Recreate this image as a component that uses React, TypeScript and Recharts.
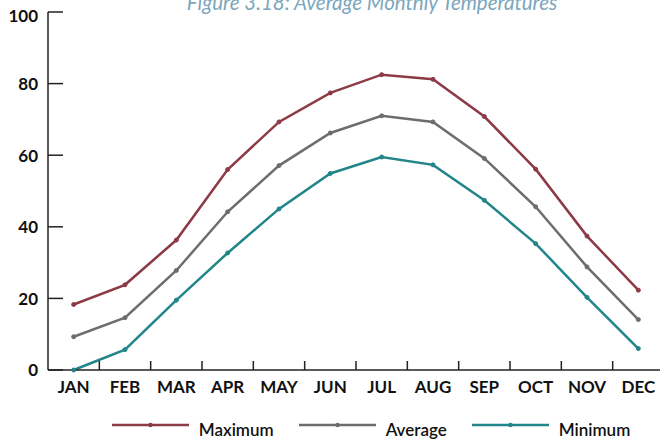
import React from 'react';
import { LineChart, Line, XAxis, YAxis, Legend } from 'recharts';

const months = ['JAN', 'FEB', 'MAR', 'APR', 'MAY', 'JUN', 'JUL', 'AUG', 'SEP', 'OCT', 'NOV', 'DEC'];
const maximum = [18.3, 23.8, 36.3, 56.0, 69.3, 77.4, 82.5, 81.2, 70.8, 56.1, 37.4, 22.3];
const average = [9.3, 14.6, 27.8, 44.2, 57.1, 66.2, 71.0, 69.3, 59.1, 45.6, 28.8, 14.1];
const minimum = [0, 5.7, 19.5, 32.7, 45.0, 54.9, 59.5, 57.3, 47.4, 35.3, 20.3, 6.0];
const yTicks = [0, 20, 40, 60, 80, 100];
const seriesOrder = ['Maximum', 'Average', 'Minimum'];
const title = 'Figure 3.18: Average Monthly Temperatures';

const COLORS = { max: '#8b3a46', avg: '#6c6d70', min: '#21858a' };
const FONT = 'Lato, "Open Sans", sans-serif';

const data = months.map((m, i) => ({
  month: m,
  x: i + 0.5,
  Maximum: maximum[i],
  Average: average[i],
  Minimum: minimum[i],
}));
const labelTicks = months.map((_, i) => i + 0.5);
const boundaryTicks = months.slice(1).map((_, i) => i + 1);

const YTick = (props: any) => {
  const { x, y, payload } = props;
  const dy = payload.value === 100 ? 6 : 2;
  return (
    <text x={x} y={y + dy} textAnchor="end" dominantBaseline="middle" fontFamily={FONT} fontWeight={700} fontSize={17} fill="#111">
      {payload.value}
    </text>
  );
};

const LegendContent = (props: any) => {
  const seen: Record<string, boolean> = {};
  const items = (props.payload || [])
    .filter((p: any) => p.type !== 'none' && seriesOrder.includes(p.value))
    .filter((p: any) => (seen[p.value] ? false : (seen[p.value] = true)))
    .sort((a: any, b: any) => seriesOrder.indexOf(a.value) - seriesOrder.indexOf(b.value));
  return (
    <div style={{ display: 'flex', justifyContent: 'center', height: 24, fontFamily: FONT }}>
      {items.map((p: any, i: number) => (
        <div key={i} style={{ display: 'flex', alignItems: 'flex-start', marginLeft: i === 0 ? 0 : 25 }}>
          <svg width={77} height={18} style={{ display: 'block' }}>
            <line x1={0} y1={9} x2={77} y2={9} stroke={p.color} strokeWidth={2.5} />
            <circle cx={38.5} cy={9} r={2.2} fill={p.color} />
          </svg>
          <span style={{ marginLeft: 10, fontSize: 17, lineHeight: '20px', paddingTop: 4, color: '#111', fontWeight: 600, whiteSpace: 'nowrap' }}>{p.value}</span>
        </div>
      ))}
    </div>
  );
};

export default function App() {
  return (
    <div style={{ position: 'fixed', left: 0, top: 0, width: 660, height: 440, overflow: 'hidden', background: '#fff' }}>
      <LineChart width={660} height={440} data={data} margin={{ top: 12, right: -4, bottom: 0, left: 8 }}>
        <XAxis
          xAxisId="t"
          dataKey="x"
          type="number"
          domain={[0, 12]}
          ticks={boundaryTicks}
          interval={0}
          mirror
          height={1}
          tickSize={9}
          tickFormatter={() => ''}
          axisLine={false}
          tickLine={{ stroke: '#222', strokeWidth: 1.5 }}
        />
        <XAxis
          dataKey="x"
          type="number"
          domain={[0, 12]}
          ticks={labelTicks}
          interval={0}
          height={46}
          tickLine={false}
          tickSize={8}
          tickMargin={3}
          tickFormatter={(v: number) => months[Math.round(v - 0.5)]}
          axisLine={{ stroke: '#222', strokeWidth: 1.5 }}
          tick={{ fontFamily: FONT, fontWeight: 700, fontSize: 17, fill: '#111' }}
        />
        <YAxis
          yAxisId="t"
          type="number"
          domain={[0, 100]}
          ticks={yTicks}
          interval={0}
          mirror
          width={1}
          tickSize={15}
          tickFormatter={() => ''}
          axisLine={false}
          tickLine={{ stroke: '#222', strokeWidth: 1.5 }}
        />
        <YAxis
          type="number"
          domain={[0, 100]}
          ticks={yTicks}
          interval={0}
          width={40}
          tickLine={false}
          tickSize={8}
          tickMargin={2}
          axisLine={{ stroke: '#222', strokeWidth: 1.5 }}
          tick={<YTick />}
        />
        <Legend verticalAlign="bottom" content={<LegendContent />} wrapperStyle={{ left: 91, width: 560 }} />
        <Line xAxisId="t" yAxisId="t" dataKey="Average" stroke="none" dot={false} activeDot={false} legendType="none" isAnimationActive={false} />
        <Line dataKey="Maximum" stroke={COLORS.max} strokeWidth={2.5} dot={{ r: 2, fill: COLORS.max, stroke: COLORS.max, strokeWidth: 1 }} activeDot={false} isAnimationActive={false} />
        <Line dataKey="Average" stroke={COLORS.avg} strokeWidth={2.5} dot={{ r: 2, fill: COLORS.avg, stroke: COLORS.avg, strokeWidth: 1 }} activeDot={false} isAnimationActive={false} />
        <Line dataKey="Minimum" stroke={COLORS.min} strokeWidth={2.5} dot={{ r: 2, fill: COLORS.min, stroke: COLORS.min, strokeWidth: 1 }} activeDot={false} isAnimationActive={false} />
      </LineChart>
      <svg width={660} height={30} style={{ position: 'absolute', left: 0, top: 0 }}>
        <text x={372} y={10} textAnchor="middle" fontFamily={FONT} fontStyle="italic" fontSize={20.5} fill="#7ba6bd">
          {title}
        </text>
      </svg>
    </div>
  );
}
